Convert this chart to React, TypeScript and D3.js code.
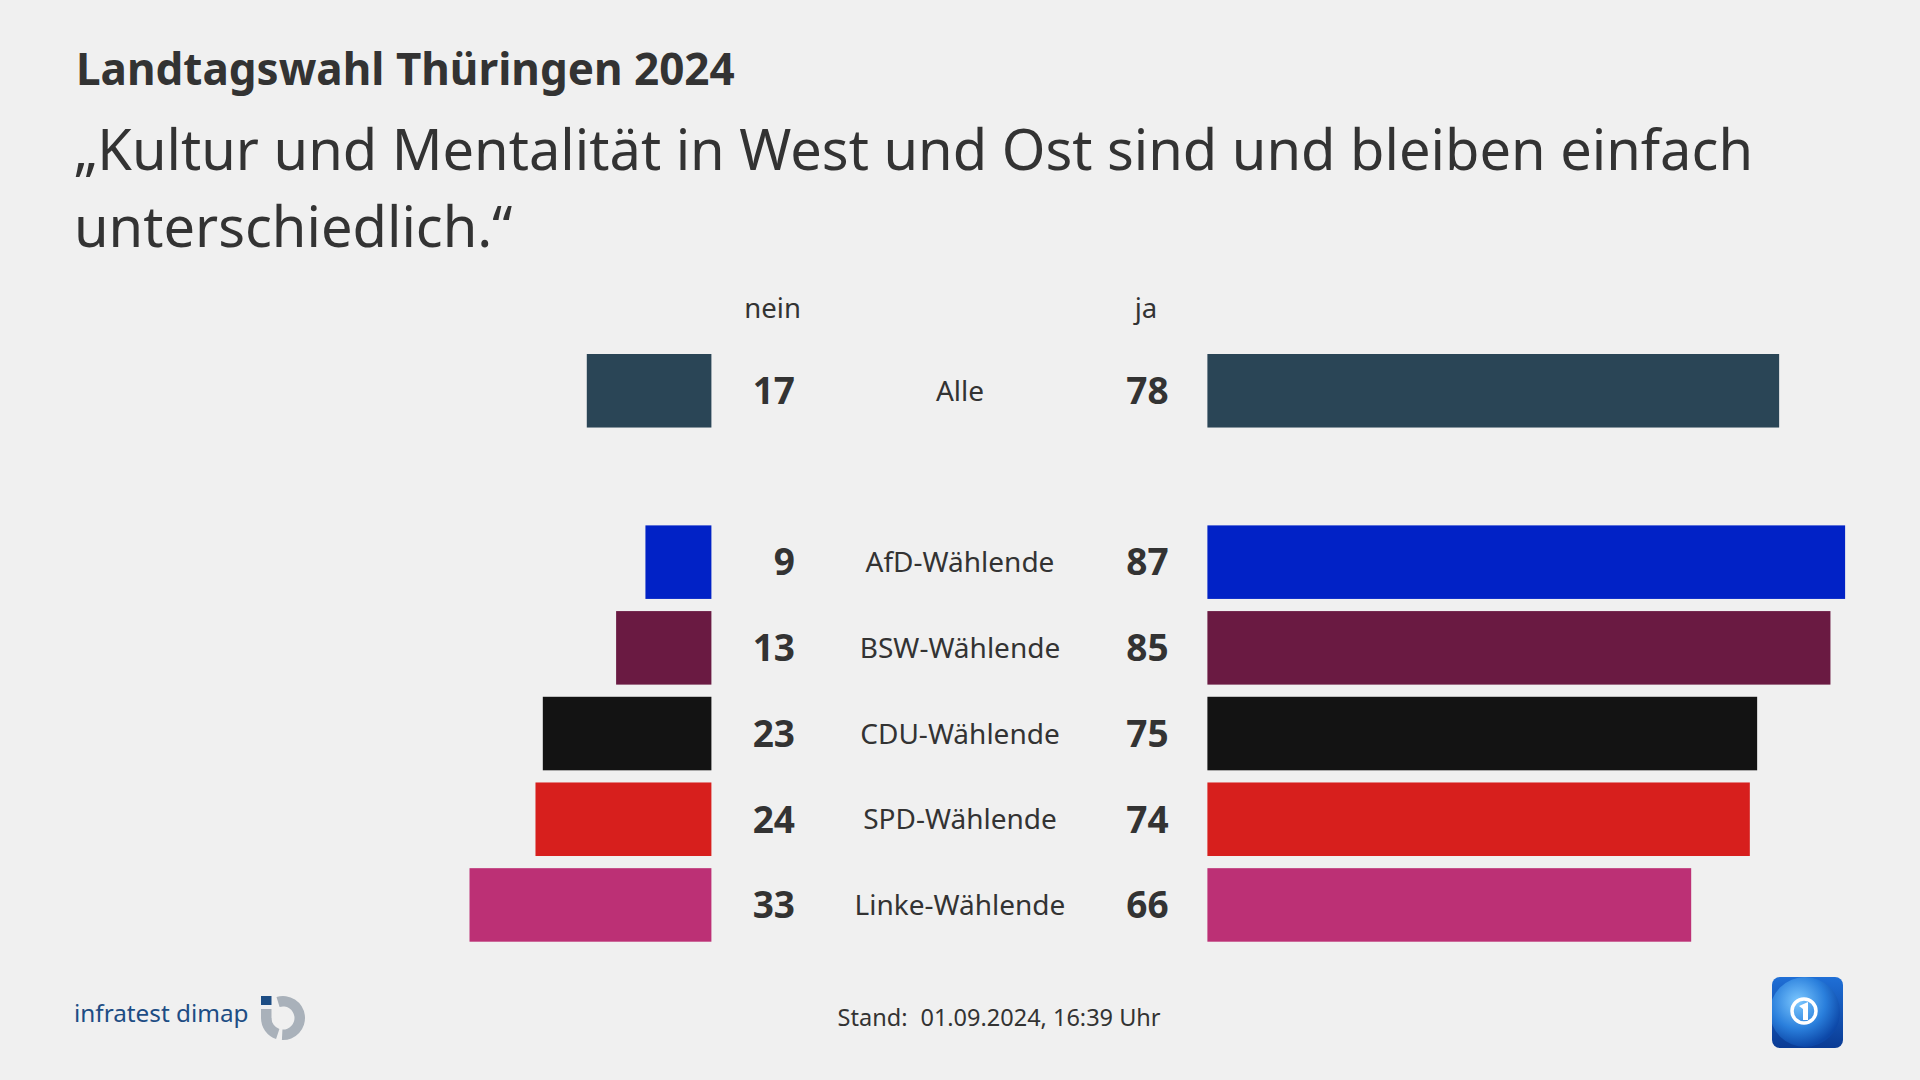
import React from "react";
import * as d3 from "d3";

const categories = ["Alle", "AfD-Wählende", "BSW-Wählende", "CDU-Wählende", "SPD-Wählende", "Linke-Wählende"];
const neinValues = [17, 9, 13, 23, 24, 33];
const jaValues = [78, 87, 85, 75, 74, 66];
const barColors = ["#2a4556", "#0122c6", "#6a1a42", "#131313", "#d71f1d", "#bc3075"];
const rowKeys = ["Alle", "__gap", "AfD-Wählende", "BSW-Wählende", "CDU-Wählende", "SPD-Wählende", "Linke-Wählende"];

const title = "Landtagswahl Thüringen 2024";
const subtitleLines = ["„Kultur und Mentalität in West und Ost sind und bleiben einfach", "unterschiedlich.“"];
const headerNein = "nein";
const headerJa = "ja";
const footerLabel = "Stand:";
const footerDate = "01.09.2024, 16:39 Uhr";
const logoText = "infratest dimap";

const W = 1920;
const H = 1080;
const FONT = "'Noto Sans', 'Open Sans', sans-serif";
const TXT = "#333333";

export default function App() {
  const x = d3.scaleLinear().domain([0, 100]).range([0, 733]);
  const y = d3.scaleBand<string>().domain(rowKeys).range([354, 941.7]).paddingInner(0.142).paddingOuter(0);
  const neinRight = 711.4;
  const jaLeft = 1207.4;
  const neinValX = 795;
  const labelX = 960;
  const jaValX = 1147.5;

  const arcGen = d3.arc();
  const ringMain = arcGen({ innerRadius: 11.5, outerRadius: 22, startAngle: -0.3, endAngle: Math.PI + 0.05 } as any) as string;
  const ringStem = arcGen({ innerRadius: 11.5, outerRadius: 22, startAngle: Math.PI + 0.32, endAngle: Math.PI * 1.5 } as any) as string;

  return (
    <svg width={W} height={H} style={{ position: "absolute", left: 0, top: 0, display: "block" }} fontFamily={FONT}>
      <defs>
        <linearGradient id="ardg" x1="0" y1="0" x2="0" y2="1">
          <stop offset="0" stopColor="#1f6fd6" />
          <stop offset="1" stopColor="#0a3b94" />
        </linearGradient>
        <radialGradient id="globe" cx="0.4" cy="0.35" r="0.65">
          <stop offset="0" stopColor="#7cc8ff" />
          <stop offset="0.6" stopColor="#2a7fdc" />
          <stop offset="1" stopColor="#0d48a8" />
        </radialGradient>
        <clipPath id="ardclip">
          <rect x={0} y={0} width={71} height={71} rx={8} />
        </clipPath>
      </defs>
      <rect x={0} y={0} width={W} height={H} fill="#f0f0f0" />
      <text x={76} y={85} fontSize={44} fontWeight={700} fill={TXT}>{title}</text>
      {subtitleLines.map((l, i) => (
        <text key={i} x={74} y={170 + i * 77} fontSize={56} fill={TXT}>{l}</text>
      ))}
      <text x={772.6} y={318} fontSize={27.5} fill={TXT} textAnchor="middle">{headerNein}</text>
      <text x={1146} y={318} fontSize={27.5} fill={TXT} textAnchor="middle">{headerJa}</text>
      {categories.map((c, i) => {
        const yy = y(c) as number;
        const bw = y.bandwidth();
        const cy = yy + bw / 2;
        return (
          <g key={c}>
            <rect x={neinRight - x(neinValues[i])} y={yy} width={x(neinValues[i])} height={bw} fill={barColors[i]} />
            <rect x={jaLeft} y={yy} width={x(jaValues[i])} height={bw} fill={barColors[i]} />
            <text x={neinValX} y={cy} dy="0.36em" fontSize={37} fontWeight={700} fill={TXT} textAnchor="end">{neinValues[i]}</text>
            <text x={labelX} y={cy} dy="0.36em" fontSize={28} fill={TXT} textAnchor="middle">{c}</text>
            <text x={jaValX} y={cy} dy="0.36em" fontSize={37} fontWeight={700} fill={TXT} textAnchor="middle">{jaValues[i]}</text>
          </g>
        );
      })}
      <text x={837.6} y={1026} fontSize={23.5} fill={TXT}>
        <tspan>{footerLabel}</tspan>
        <tspan dx={13}>{footerDate}</tspan>
      </text>
      <text x={74} y={1022} fontSize={24.3} fill="#1d4d84">{logoText}</text>
      <g transform="translate(283,1018)">
        <path d={ringMain} fill="#a9b1ba" />
        <path d={ringStem} fill="#a9b1ba" />
        <rect x={-22} y={-9} width={10.5} height={9.5} fill="#a9b1ba" />
        <rect x={-22} y={-22} width={10.5} height={9} fill="#1d4d84" />
      </g>
      <g transform="translate(1772,977)">
        <g clipPath="url(#ardclip)">
          <rect x={0} y={0} width={71} height={71} fill="url(#ardg)" />
          <circle cx={33} cy={35} r={35} fill="url(#globe)" />
        </g>
        <circle cx={32} cy={34} r={12} fill="none" stroke="#ffffff" strokeWidth={3.5} />
        <path d="M27,29 L36,25 L36,43 L31,43 L31,32 Z" fill="#ffffff" />
      </g>
    </svg>
  );
}
